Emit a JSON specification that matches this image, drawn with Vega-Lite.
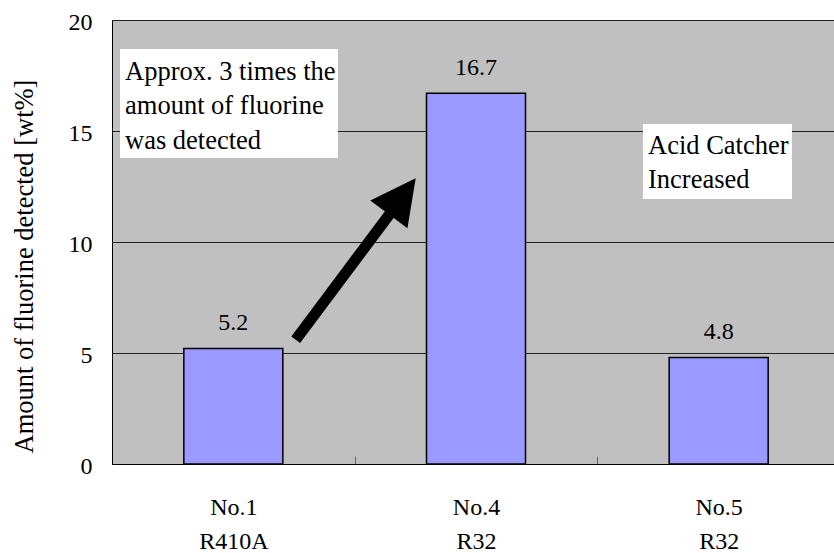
{
  "$schema": "https://vega.github.io/schema/vega-lite/v6.json",
  "width": 722,
  "height": 444,
  "autosize": {"type": "none"},
  "padding": {"left": 112, "top": 20, "right": 0, "bottom": 89},
  "background": "white",
  "config": {
    "view": {"stroke": null, "fill": "#C0C0C0"},
    "font": "Liberation Serif, Times New Roman, serif",
    "text": {"font": "Liberation Serif, Times New Roman, serif"},
    "axis": {"labelFont": "Liberation Serif, Times New Roman, serif", "titleFont": "Liberation Serif, Times New Roman, serif"}
  },
  "datasets": {
    "bars": [
      {"cat": "No.1\nR410A", "v": 5.2},
      {"cat": "No.4\nR32", "v": 16.7},
      {"cat": "No.5\nR32", "v": 4.8}
    ],
    "boxes": [
      {"x": 0.033, "x2": 0.931, "y": 18.69, "y2": 13.78},
      {"x": 2.188, "x2": 2.802, "y": 15.32, "y2": 11.94}
    ],
    "notes": [
      {"x": 0.0536, "y": 17.31, "text": "Approx. 3 times the\namount of fluorine\n was detected"},
      {"x": 2.2088, "y": 13.98, "text": "Acid Catcher\nIncreased"}
    ],
    "arrow": [{"x": 0.757, "y": 5.6, "x2": 1.154, "y2": 11.4}],
    "head": [{"x": 1.2515, "y": 12.87}]
  },
  "resolve": {"scale": {"x": "independent"}},
  "layer": [
    {
      "data": {"name": "bars"},
      "mark": {"type": "bar", "width": {"band": 0.408}, "fill": "#9999FF", "stroke": "black", "strokeWidth": 1.5},
      "encoding": {
        "x": {
          "field": "cat", "type": "nominal", "sort": null,
          "scale": {"range": [0, 728], "paddingInner": 0, "paddingOuter": 0},
          "axis": {
            "title": null, "tickBand": "extent", "tickSize": -8, "tickColor": "#666666",
            "domainColor": "black", "labelFontSize": 24, "labelColor": "black", "labelAngle": 0,
            "labelFont": "Liberation Serif, Times New Roman, serif",
            "labelPadding": 58, "labelBaseline": "alphabetic", "labelLineHeight": 34,
            "labelExpr": "split(datum.label, '\\n')", "grid": false
          }
        },
        "y": {
          "field": "v", "type": "quantitative",
          "scale": {"domain": [0, 20], "nice": false},
          "axis": {
            "title": "Amount of fluorine detected [wt%]", "values": [0, 5, 10, 15, 20],
            "grid": true, "gridColor": "#222222", "gridWidth": 1, "ticks": false,
            "domainColor": "black", "labelFontSize": 24, "labelColor": "black",
            "labelFont": "Liberation Serif, Times New Roman, serif",
            "titleFont": "Liberation Serif, Times New Roman, serif",
            "labelPadding": 20, "labelBaseline": "alphabetic", "labelOffset": 9.5,
            "titleFontSize": 26.5, "titleFontWeight": "normal", "titleColor": "black",
            "titleX": -80, "titleY": 246, "titleAngle": -90, "titleAlign": "center",
            "titleBaseline": "alphabetic"
          }
        }
      }
    },
    {
      "data": {"name": "bars"},
      "mark": {"type": "text", "dy": -18.5, "fontSize": 24, "baseline": "alphabetic", "color": "black", "font": "Liberation Serif, Times New Roman, serif"},
      "encoding": {
        "x": {"field": "cat", "type": "nominal", "sort": null, "scale": {"range": [0, 728], "paddingInner": 0, "paddingOuter": 0}, "axis": null},
        "y": {"field": "v", "type": "quantitative"},
        "text": {"field": "v", "type": "quantitative", "format": ".1f"}
      }
    },
    {
      "data": {"name": "boxes"},
      "mark": {"type": "rect", "fill": "white", "strokeWidth": 0},
      "encoding": {
        "x": {"field": "x", "type": "quantitative", "scale": {"domain": [0, 3], "range": [0, 728], "nice": false, "zero": false}, "axis": null},
        "x2": {"field": "x2"},
        "y": {"field": "y", "type": "quantitative"},
        "y2": {"field": "y2"}
      }
    },
    {
      "data": {"name": "notes"},
      "mark": {"type": "text", "align": "left", "baseline": "alphabetic", "fontSize": 26.5, "lineHeight": 34.5, "lineBreak": "\n", "color": "black", "font": "Liberation Serif, Times New Roman, serif"},
      "encoding": {
        "x": {"field": "x", "type": "quantitative", "scale": {"domain": [0, 3], "range": [0, 728], "nice": false, "zero": false}, "axis": null},
        "y": {"field": "y", "type": "quantitative"},
        "text": {"field": "text", "type": "nominal"}
      }
    },
    {
      "data": {"name": "arrow"},
      "mark": {"type": "rule", "strokeWidth": 11, "color": "black", "strokeCap": "butt"},
      "encoding": {
        "x": {"field": "x", "type": "quantitative", "scale": {"domain": [0, 3], "range": [0, 728], "nice": false, "zero": false}, "axis": null},
        "x2": {"field": "x2"},
        "y": {"field": "y", "type": "quantitative"},
        "y2": {"field": "y2"}
      }
    },
    {
      "data": {"name": "head"},
      "mark": {"type": "point", "shape": "M0,0L0.514,1L-0.514,1Z", "size": 8100, "angle": 36.6, "filled": true, "color": "black", "opacity": 1, "strokeWidth": 0},
      "encoding": {
        "x": {"field": "x", "type": "quantitative", "scale": {"domain": [0, 3], "range": [0, 728], "nice": false, "zero": false}, "axis": null},
        "y": {"field": "y", "type": "quantitative"}
      }
    }
  ]
}
